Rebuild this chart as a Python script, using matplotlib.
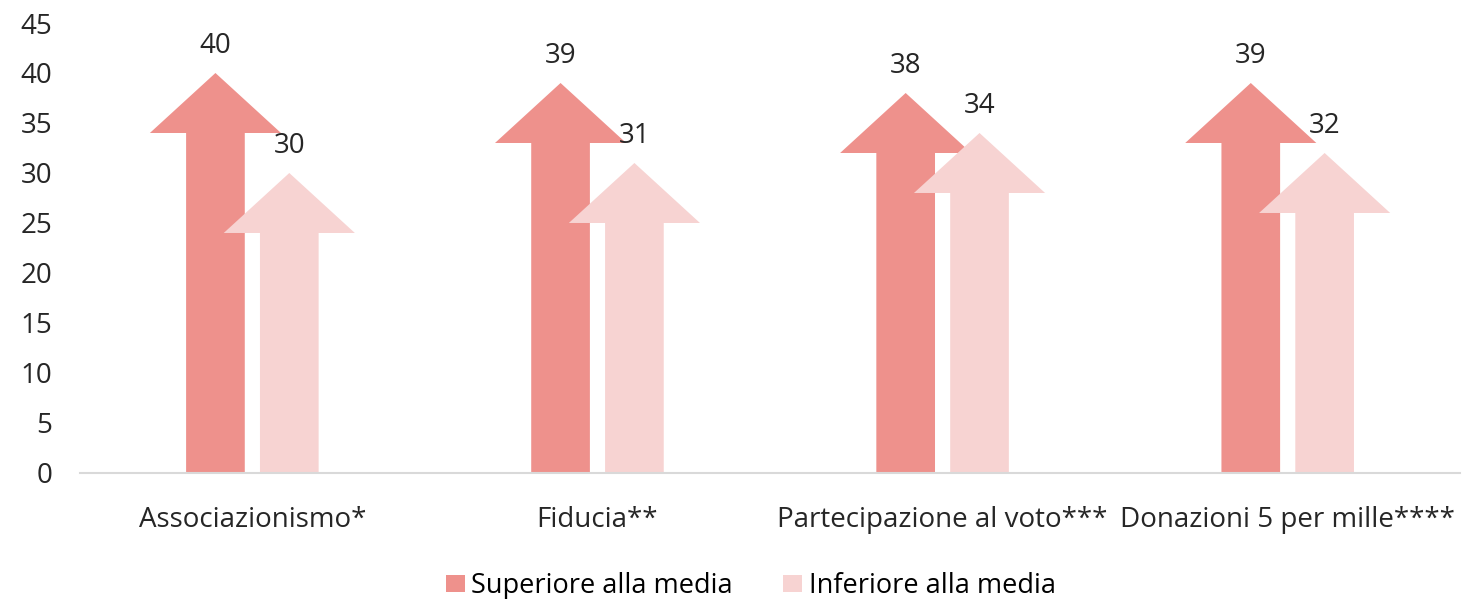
import matplotlib.pyplot as plt
from matplotlib.patches import Polygon, Patch
import numpy as np

plt.rcParams['font.family'] = ['Open Sans', 'DejaVu Sans']

categories = ['Associazionismo*', 'Fiducia**', 'Partecipazione al voto***', 'Donazioni 5 per mille****']
superiore = [40, 39, 38, 39]
inferiore = [30, 31, 34, 32]
series_names = ['Superiore alla media', 'Inferiore alla media']
colors = ['#EE918C', '#F7D3D2']

fig = plt.figure(figsize=(14.78, 5.99), dpi=100)
ax = fig.add_axes([0.054, 0.2104, 0.934, 0.7512])

shaft_w = 0.17
head_w = 0.38
head_h = 6.0
offset = 0.107


def arrow(x, val, color):
    pts = [(x - shaft_w / 2, 0), (x + shaft_w / 2, 0),
           (x + shaft_w / 2, val - head_h), (x + head_w / 2, val - head_h),
           (x, val), (x - head_w / 2, val - head_h),
           (x - shaft_w / 2, val - head_h)]
    ax.add_patch(Polygon(pts, closed=True, facecolor=color, edgecolor='none'))
    ax.text(x, val + 2.0, str(val), ha='center', va='baseline', fontsize=20, color='#262626')


x = np.arange(len(categories))
for i in range(len(categories)):
    arrow(x[i] - offset, superiore[i], colors[0])
    arrow(x[i] + offset, inferiore[i], colors[1])

ax.set_xlim(-0.5, len(categories) - 0.5)
ax.set_ylim(0, 45)
ax.set_yticks(range(0, 46, 5))
ax.set_xticks(x)
ax.set_xticklabels(categories, fontsize=20, color='#262626')
ax.tick_params(axis='y', labelsize=20, colors='#262626', length=0, pad=20)
ax.tick_params(axis='x', length=0, pad=24)
for s in ['top', 'right', 'left']:
    ax.spines[s].set_visible(False)
ax.spines['bottom'].set_color('#D9D9D9')
ax.spines['bottom'].set_linewidth(1.5)

handles = [Patch(facecolor=c, edgecolor='none') for c in colors]
fig.legend(handles, series_names, loc='center', bbox_to_anchor=(0.508, 0.022), ncol=2,
           frameon=False, fontsize=19.5, handlelength=0.7, handleheight=0.6,
           handletextpad=0.25, columnspacing=1.85)

fig.savefig('out.png', dpi=100)
